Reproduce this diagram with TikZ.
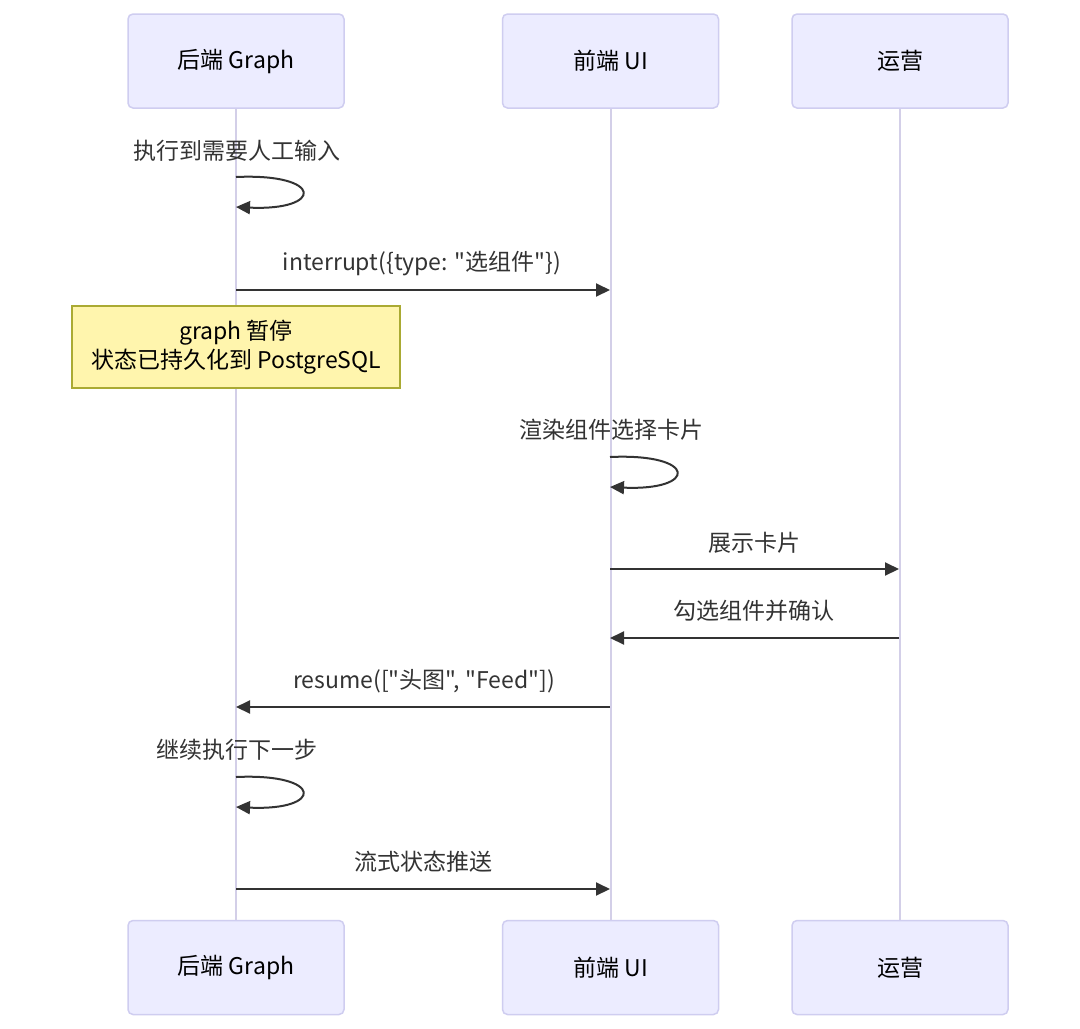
\documentclass[tikz,border=0pt]{standalone}
\usepackage{fontspec}
\newfontfamily\cjkfont{Noto Sans CJK SC}
\usepackage{xcolor}
\usepackage{tikz}
\usetikzlibrary{positioning,arrows.meta}

\definecolor{actorfill}{HTML}{ECECFF}
\definecolor{actorline}{HTML}{CFCDF0}
\definecolor{lifecol}{HTML}{D3CFE8}
\definecolor{notefill}{HTML}{FFF5AD}
\definecolor{noteline}{HTML}{AAAA33}
\definecolor{msgcol}{HTML}{333333}

\begin{document}
\begin{tikzpicture}[
    x=1pt, y=-1pt,
    font=\cjkfont\fontsize{23}{29}\selectfont,
    actor/.style = {rectangle, rounded corners=5pt, draw=actorline, line width=1.5pt,
                    fill=actorfill, minimum width=216pt, minimum height=94pt, text=black},
    life/.style = {draw=lifecol, line width=2pt},
    msg/.style = {draw=msgcol, line width=2pt, -{Triangle[length=14pt,width=13pt]}},
    lbl/.style = {text=msgcol, inner sep=0pt},
    note/.style = {rectangle, draw=noteline, line width=1.2pt, fill=notefill,
                   minimum width=328pt, minimum height=82pt, align=center, text=black}
]

\fill[white] (0,0) rectangle (1080,1029);
\useasboundingbox (0,0) rectangle (1080,1029);

% actors
\node[actor] (G) at (236,61) {后端 Graph};
\node[actor, right=157pt of G] (U) {前端 UI};
\node[actor, right=72pt of U] (Y) {运营};

\node[actor, below=811pt of G] (Gb) {后端 Graph};
\node[actor, below=811pt of U] (Ub) {前端 UI};
\node[actor, below=811pt of Y] (Yb) {运营};

% lifelines
\draw[life] (G) -- (Gb);
\draw[life] (U) -- (Ub);
\draw[life] (Y) -- (Yb);

% points on the lifelines
\coordinate (g1a) at (236,177);
\coordinate (g1b) at (236,207);
\coordinate (g2) at (236,290);
\coordinate (u2) at (610,290);
\coordinate (u3a) at (610,457);
\coordinate (u3b) at (610,487);
\coordinate (u4) at (610,569);
\coordinate (y4) at (899,569);
\coordinate (y5) at (899,638);
\coordinate (u5) at (610,638);
\coordinate (u6) at (610,707);
\coordinate (g6) at (236,707);
\coordinate (g7a) at (236,777);
\coordinate (g7b) at (236,807);
\coordinate (g8) at (236,889);
\coordinate (u8) at (610,889);

% messages
\node[lbl] (t1) at (237,151) {执行到需要人工输入};
\draw[msg] (g1a) .. controls +(88,-4) and +(88,4) .. (g1b);

\node[lbl] (t2) at (422,264) {interrupt(\{type: "选组件"\})};
\draw[msg] (g2) -- (u2);

\node[note] (N) at (236,347) {graph 暂停\\状态已持久化到 PostgreSQL};

\node[lbl] (t3) at (611,430) {渲染组件选择卡片};
\draw[msg] (u3a) .. controls +(88,-4) and +(88,4) .. (u3b);

\node[lbl] (t4) at (754,543) {展示卡片};
\draw[msg] (u4) -- (y4);

\node[lbl] (t5) at (754,611) {勾选组件并确认};
\draw[msg] (y5) -- (u5);

\node[lbl] (t6) at (424,681) {resume(["头图", "Feed"])};
\draw[msg] (u6) -- (g6);

\node[lbl] (t7) at (237,750) {继续执行下一步};
\draw[msg] (g7a) .. controls +(88,-4) and +(88,4) .. (g7b);

\node[lbl] (t8) at (423,862) {流式状态推送};
\draw[msg] (g8) -- (u8);

\end{tikzpicture}
\end{document}
